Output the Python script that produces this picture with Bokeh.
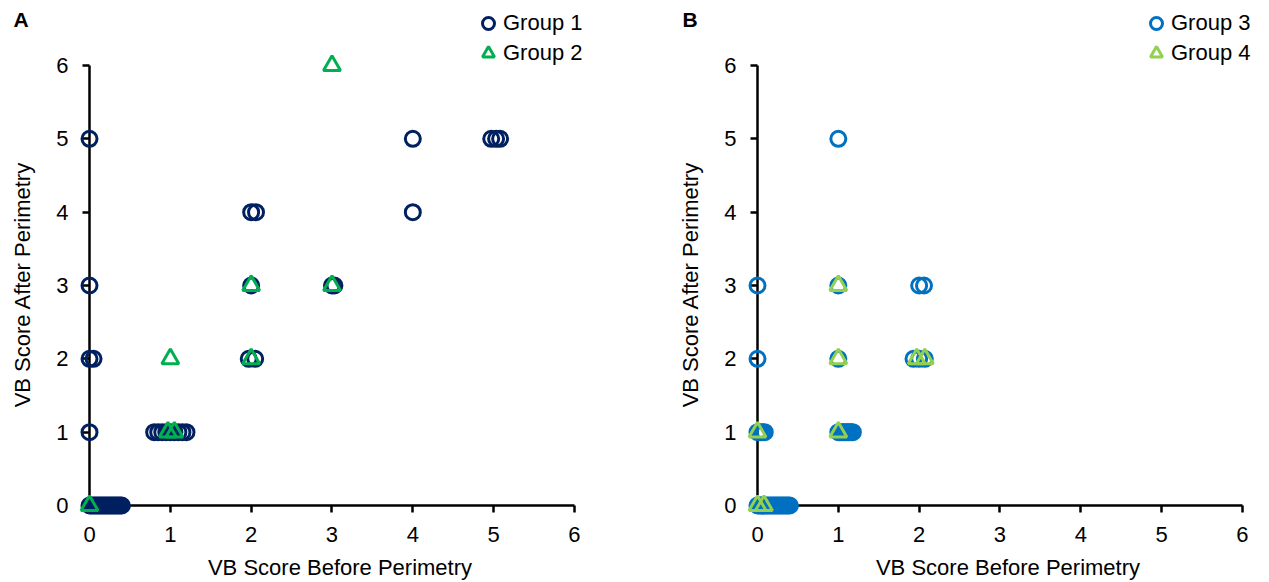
from bokeh.plotting import figure
from bokeh.models import FixedTicker, Range1d, ColumnDataSource
from bokeh.layouts import row
from bokeh.embed import file_html
from bokeh.resources import INLINE

FONT = "Liberation Sans"

# ---------------- Panel A ----------------
g1_x = [0.0, 0.02, 0.04, 0.06, 0.08, 0.10, 0.12, 0.14, 0.16, 0.18, 0.20,
        0.22, 0.24, 0.26, 0.28, 0.30, 0.32, 0.34, 0.36, 0.38, 0.40,
        0.0, 0.0, 0.05, 0.0, 0.0,
        0.80, 0.85, 0.90, 0.95, 1.00, 1.05, 1.10, 1.15, 1.20,
        1.97, 2.05, 2.0, 2.0, 2.06, 3.0, 3.03, 4.0, 4.0, 4.97, 5.03, 5.08]
g1_y = [0, 0, 0, 0, 0, 0, 0, 0, 0, 0, 0,
        0, 0, 0, 0, 0, 0, 0, 0, 0, 0,
        1, 2, 2, 3, 5,
        1, 1, 1, 1, 1, 1, 1, 1, 1,
        2, 2, 3, 4, 4, 3, 3, 4, 5, 5, 5, 5]
g2_x = [0.0, 0.97, 1.05, 1.0, 2.0, 2.0, 3.0, 3.0]
g2_y = [0, 1, 1, 2, 2, 3, 3, 6]

# ---------------- Panel B ----------------
g3_x = [0.0, 0.02, 0.04, 0.06, 0.08, 0.10, 0.12, 0.14, 0.16, 0.18, 0.20,
        0.22, 0.24, 0.26, 0.28, 0.30, 0.32, 0.34, 0.36, 0.38, 0.40,
        0.0, 0.03, 0.06, 0.09, 0.0, 0.0,
        1.00, 1.02, 1.04, 1.06, 1.08, 1.10, 1.12, 1.14, 1.16, 1.18,
        1.0, 1.0, 1.0, 1.93, 2.0, 2.07, 2.0, 2.06]
g3_y = [0, 0, 0, 0, 0, 0, 0, 0, 0, 0, 0,
        0, 0, 0, 0, 0, 0, 0, 0, 0, 0,
        1, 1, 1, 1, 2, 3,
        1, 1, 1, 1, 1, 1, 1, 1, 1, 1,
        2, 3, 5, 2, 2, 2, 3, 3]
g4_x = [0.0, 0.08, 0.0, 1.0, 1.0, 1.0, 1.97, 2.07]
g4_y = [0, 0, 1, 1, 2, 3, 2, 2]

ticks = [0, 1, 2, 3, 4, 5, 6]
x_title = "VB Score Before Perimetry"
y_title = "VB Score After Perimetry"
# non-breaking padding so the rotated title is centred on the 0-6 span
y_title_pad = "\u00a0" * 9

C1, C2, C3, C4 = "#002060", "#00B050", "#0070C0", "#92D050"

PX_X = 80.83   # px per x unit
PX_Y = 73.33   # px per y unit
FRAME_W = 501
FRAME_H = 497
TOP = 8
BOTTOM = 76


def panel(letter, xs1, ys1, c1, name1, xs2, ys2, c2, name2, ml, mr, letter_off):
    p = figure(frame_width=FRAME_W, frame_height=FRAME_H,
               x_range=Range1d(0, FRAME_W / PX_X), y_range=Range1d(0, FRAME_H / PX_Y),
               output_backend="svg", toolbar_location=None,
               min_border_left=ml, min_border_right=mr,
               min_border_top=TOP, min_border_bottom=BOTTOM)
    p.grid.visible = False
    p.outline_line_color = None
    p.background_fill_color = "white"
    p.border_fill_color = "white"

    for ax in (p.xaxis[0], p.yaxis[0]):
        ax.ticker = FixedTicker(ticks=ticks, minor_ticks=[])
        ax.bounds = (0, 6)
        ax.axis_line_width = 2.5
        ax.axis_line_color = "black"
        ax.major_tick_line_width = 2.5
        ax.major_tick_line_color = "black"
        ax.major_tick_in = 0
        ax.major_tick_out = 7
        ax.minor_tick_line_color = None
        ax.major_label_text_font = FONT
        ax.major_label_text_font_size = "22px"
        ax.major_label_text_color = "black"
        ax.axis_label_text_font = FONT
        ax.axis_label_text_font_size = "22px"
        ax.axis_label_text_font_style = "normal"
        ax.axis_label_text_color = "black"
    p.xaxis[0].axis_label = x_title
    p.xaxis[0].major_label_standoff = 14
    p.xaxis[0].axis_label_standoff = 10
    p.yaxis[0].axis_label = y_title + y_title_pad
    p.yaxis[0].major_label_standoff = 14
    p.yaxis[0].axis_label_standoff = 18

    s1 = ColumnDataSource(dict(x=xs1, y=ys1))
    s2 = ColumnDataSource(dict(x=xs2, y=ys2))
    p.scatter("x", "y", source=s1, marker="circle", size=15, line_width=3,
              line_color=c1, fill_color=None, legend_label=name1, level="overlay")
    p.scatter("x", "y", source=s2, marker="triangle", size=17, line_width=3,
              line_color=c2, fill_color=None, legend_label=name2, level="overlay")

    lg = p.legend[0]
    lg.location = (384, 437)
    lg.margin = 0
    lg.padding = 0
    lg.spacing = 0
    lg.border_line_color = None
    lg.background_fill_alpha = 0
    lg.glyph_width = 30
    lg.glyph_height = 30
    lg.label_standoff = 0
    lg.label_text_font = FONT
    lg.label_text_font_size = "22px"
    lg.label_text_color = "black"

    p.title.text = letter
    p.title.text_font = FONT
    p.title.text_font_size = "21px"
    p.title.text_font_style = "bold"
    p.title.text_color = "black"
    p.title.align = "left"
    p.title.offset = letter_off
    p.title.standoff = -44
    return p


pA = panel("A", g1_x, g1_y, C1, "Group 1", g2_x, g2_y, C2, "Group 2", 89, 44, -76)
pB = panel("B", g3_x, g3_y, C3, "Group 3", g4_x, g4_y, C4, "Group 4", 123, 10, -75)

layout = row(pA, pB)
open("out.html", "w").write(file_html(layout, INLINE))
